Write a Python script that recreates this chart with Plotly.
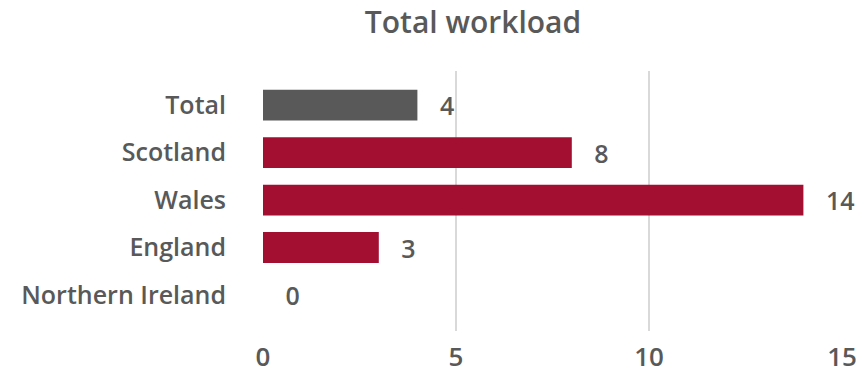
import plotly.graph_objects as go

# Workload by nation (top to bottom as displayed)
categories = ["Total", "Scotland", "Wales", "England", "Northern Ireland"]
values = [4, 8, 14, 3, 0]
bar_colors = ["#595959", "#A20F30", "#A20F30", "#A20F30", "#A20F30"]
x_ticks = [0, 5, 10, 15]

TEXT = "#595959"
FONT = "'Open Sans', Lato, sans-serif"

fig = go.Figure(
    go.Bar(
        y=categories,
        x=values,
        orientation="h",
        marker=dict(color=bar_colors, line=dict(width=0)),
        text=[f"   {v}" for v in values],
        textposition="outside",
        constraintext="none",
        textfont=dict(family=FONT, size=25, color=TEXT, weight=600),
        cliponaxis=False,
        hoverinfo="skip",
    )
)

fig.update_layout(
    width=865,
    height=373,
    margin=dict(l=263, r=23, t=71, b=42),
    paper_bgcolor="white",
    plot_bgcolor="white",
    bargap=0.35,
    showlegend=False,
    title=dict(
        text="Total workload",
        x=473 / 865,
        xanchor="center",
        y=0.94,
        yanchor="middle",
        font=dict(family=FONT, size=30, color=TEXT, weight=600),
    ),
    xaxis=dict(
        range=[0, 15],
        tickvals=x_ticks,
        ticktext=[str(t) for t in x_ticks],
        showgrid=True,
        gridcolor="#D9D9D9",
        gridwidth=2,
        zeroline=False,
        showline=False,
        ticks="",
        automargin=False,
        ticklabelstandoff=8,
        tickfont=dict(family=FONT, size=26, color=TEXT, weight=600),
        fixedrange=True,
    ),
    yaxis=dict(
        categoryorder="array",
        categoryarray=categories,
        autorange=False,
        range=[4.76, -0.72],
        showgrid=False,
        zeroline=False,
        showline=False,
        ticks="",
        automargin=False,
        ticklabelstandoff=36,
        tickfont=dict(family=FONT, size=25, color=TEXT, weight=600),
        fixedrange=True,
    ),
)

fig.write_html("out.html")
